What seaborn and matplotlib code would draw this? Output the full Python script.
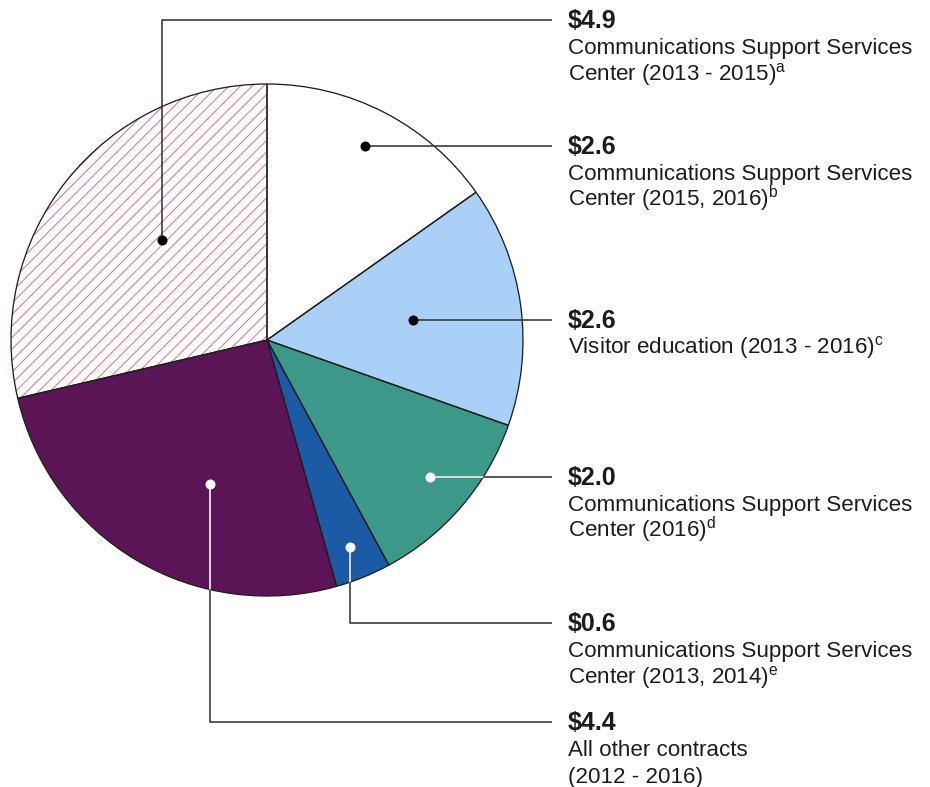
import matplotlib
matplotlib.use("Agg")
import matplotlib.pyplot as plt
from matplotlib.collections import LineCollection
import numpy as np
import pandas as pd
import seaborn as sns

# Contract obligations, millions of dollars, in clockwise order from 12 o'clock
amounts = [2.6, 2.6, 2.0, 0.6, 4.4, 4.9]
descriptions = [
    ["Communications Support Services", "Center (2015, 2016)$^{b}$"],
    ["Visitor education (2013 - 2016)$^{c}$"],
    ["Communications Support Services", "Center (2016)$^{d}$"],
    ["Communications Support Services", "Center (2013, 2014)$^{e}$"],
    ["All other contracts", "(2012 - 2016)"],
    ["Communications Support Services", "Center (2013 - 2015)$^{a}$"],
]
slice_colors = ["#ffffff", "#a9d0f6", "#3c9888", "#1b5ba6", "#5b1456", "#ffffff"]
hatched = [False, False, False, False, False, True]
dark_slice = [False, False, True, True, True, False]

# Leader-line anchors: position inside each wedge (fraction of its sweep, fraction of radius)
anchor_sweep = [0.51, 0.50, 0.51, 0.48, 0.595, 0.45]
anchor_radius = [0.85, 0.575, 0.83, 0.87, 0.605, 0.566]
# Label row (pixels from top); None keeps the label level with its anchor
label_rows = [None, None, None, 623, 722, 20]

DPI = 100
W, H = 930, 787
PT = 72 / DPI  # points per pixel

sns.set_theme(style="white")
plt.rcParams["font.family"] = ["Liberation Sans", "DejaVu Sans"]
plt.rcParams["mathtext.fontset"] = "custom"
plt.rcParams["mathtext.rm"] = "Liberation Sans"
plt.rcParams["mathtext.it"] = "Liberation Sans"

df = pd.DataFrame({"amount": amounts, "color": slice_colors})

fig = plt.figure(figsize=(W / DPI, H / DPI), dpi=DPI)
ax = fig.add_axes([0, 0, 1, 1])

center = (267, H - 340)
radius = 256
edge = "#1e1e1e"

wedges, _ = ax.pie(
    df["amount"], colors=df["color"], startangle=90, counterclock=False,
    center=center, radius=radius,
    wedgeprops=dict(edgecolor="none", linewidth=0),
)

# diagonal red hatching, clipped to its wedge
hatch_step = 11.5
for w, h in zip(wedges, hatched):
    if h:
        x0, x1 = center[0] - radius, center[0] + radius
        offsets = np.arange(-2 * radius - 300, 2 * radius + 300, hatch_step)
        segs = [[(x0, x0 + c + center[1] - center[0]),
                 (x1, x1 + c + center[1] - center[0])] for c in offsets]
        lc = LineCollection(segs, colors="#dc7283", linewidths=1.0 * PT, zorder=2)
        ax.add_collection(lc)
        lc.set_clip_path(w)

# slice outlines on top of the fills and hatching
ax.pie(
    df["amount"], startangle=90, counterclock=False, center=center, radius=radius,
    wedgeprops=dict(fill=False, edgecolor=edge, linewidth=1.3 * PT, zorder=2.5),
)

x_end = 552
x_text = 568
line_col = "#363636"
text_col = "#1c1c1c"

for i, w in enumerate(wedges):
    ang = np.deg2rad(w.theta1 + anchor_sweep[i] * (w.theta2 - w.theta1))
    r = anchor_radius[i] * radius
    dx = center[0] + r * np.cos(ang)
    dy = center[1] + r * np.sin(ang)
    row = label_rows[i]
    ly = dy if row is None else H - row
    if row is None:
        xs, ys = [dx, x_end], [dy, dy]
    else:
        xs, ys = [dx, dx, x_end], [dy, ly, ly]
    ax.plot(xs, ys, color=line_col, lw=1.6 * PT, zorder=3, solid_capstyle="butt")
    if dark_slice[i]:
        seg, = ax.plot(xs, ys, color="white", lw=1.6 * PT, zorder=4,
                       solid_capstyle="butt")
        seg.set_clip_path(w)
    ax.plot([dx], [dy], marker="o", ms=10 * PT,
            color="white" if dark_slice[i] else "black",
            mec="none", zorder=5)

    base = ly - 8
    ax.text(x_text, base, f"${amounts[i]:.1f}", fontsize=25 * PT,
            fontweight="bold", color=text_col, va="baseline", ha="left")
    for j, line in enumerate(descriptions[i]):
        ax.text(x_text, base - 26 - 26.5 * j, line, fontsize=22.4 * PT,
                color=text_col, va="baseline", ha="left")

ax.set_xlim(0, W)
ax.set_ylim(0, H)
ax.set_aspect("equal")
ax.axis("off")

fig.savefig("out.png", dpi=DPI, facecolor="white")
